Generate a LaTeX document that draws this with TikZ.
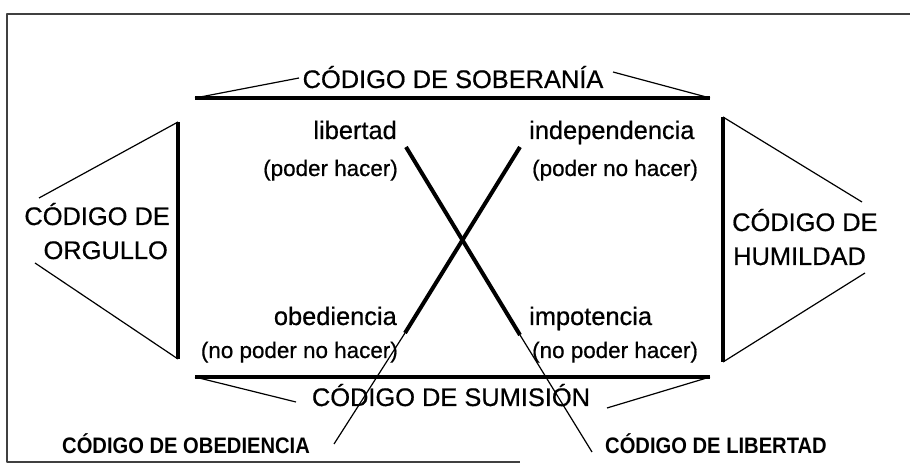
\documentclass[tikz,border=0pt]{standalone}
\usepackage{fontspec}
\setmainfont{Liberation Sans}
\newfontfamily\scanfont{Liberation Sans}[FakeBold=0.6]
\newfontfamily\tagfont{Liberation Sans Bold}[FakeStretch=0.9]
\usepackage{tikz}

\begin{document}
\begin{tikzpicture}[line join=bevel,line cap=butt,
  bar/.style={black,line width=4bp},
  slant/.style={black,line width=1.2bp},
  big/.style={inner sep=0pt,font=\scanfont\fontsize{25.5}{30}\selectfont},
  small/.style={inner sep=0pt,font=\scanfont\fontsize{22.5}{26}\selectfont},
  tag/.style={inner sep=0pt,font=\tagfont\fontsize{22.5}{26}\selectfont},
]
%%
\useasboundingbox (0bp,0bp) rectangle (910bp,470bp);
\draw [black!75,line width=1.2bp] (910bp,456bp) -- (7bp,456bp) -- (7bp,8bp) -- (520bp,8bp);
%
\coordinate (top_w) at (195bp,372bp);
\coordinate (top_e) at (710bp,372bp);
\coordinate (bot_w) at (195bp,93bp);
\coordinate (bot_e) at (710bp,93bp);
\coordinate (lft_n) at (178bp,348bp);
\coordinate (lft_s) at (178bp,111bp);
\coordinate (rgt_n) at (723bp,353bp);
\coordinate (rgt_s) at (723bp,108bp);
\coordinate (sob_w) at (299bp,392bp);
\coordinate (sob_e) at (613bp,398bp);
\coordinate (sum_w) at (296bp,68bp);
\coordinate (sum_e) at (607bp,62bp);
\coordinate (org_n) at (39bp,272bp);
\coordinate (org_s) at (35bp,207bp);
\coordinate (hum_n) at (862bp,268bp);
\coordinate (hum_s) at (865bp,197bp);
\coordinate (cross1_a) at (406bp,323bp);
\coordinate (cross1_b) at (520bp,135bp);
\coordinate (cross1_c) at (592bp,18bp);
\coordinate (cross2_a) at (520bp,323bp);
\coordinate (cross2_b) at (405bp,137bp);
\coordinate (cross2_c) at (334bp,26bp);
%
\node (node_sob) at (453bp,382bp) [big,anchor=base] {CÓDIGO DE SOBERANÍA};
\node (node_sum) at (451bp,64bp) [big,anchor=base] {CÓDIGO DE SUMISIÓN};
\node (node_org1) at (170bp,245bp) [big,anchor=base east] {CÓDIGO DE};
\node (node_org2) at (168bp,211bp) [big,anchor=base east] {ORGULLO};
\node (node_hum1) at (732bp,239bp) [big,anchor=base west] {CÓDIGO DE};
\node (node_hum2) at (733bp,205bp) [big,anchor=base west] {HUMILDAD};
\node (node_lib) at (397bp,331bp) [big,anchor=base east] {libertad};
\node (node_ind) at (529bp,331bp) [big,anchor=base west] {independencia};
\node (node_obe) at (397bp,145bp) [big,anchor=base east] {obediencia};
\node (node_imp) at (529bp,145bp) [big,anchor=base west] {impotencia};
\node (node_lib_p) at (398bp,294bp) [small,anchor=base east] {(poder hacer)};
\node (node_ind_p) at (532bp,294bp) [small,anchor=base west] {(poder no hacer)};
\node (node_obe_p) at (398bp,112bp) [small,anchor=base east] {(no poder no hacer)};
\node (node_imp_p) at (532bp,112bp) [small,anchor=base west] {(no poder hacer)};
\node (node_cobe) at (62bp,17bp) [tag,anchor=base west] {CÓDIGO DE OBEDIENCIA};
\node (node_clib) at (605bp,17bp) [tag,anchor=base west] {CÓDIGO DE LIBERTAD};
%
\draw [bar] (top_w) -- (top_e);
\draw [bar] (bot_w) -- (bot_e);
\draw [bar] (lft_n) -- (lft_s);
\draw [bar] (rgt_n) -- (rgt_s);
\draw [slant] (top_w) -- (sob_w);
\draw [slant] (sob_e) -- (top_e);
\draw [slant] (bot_w) -- (sum_w);
\draw [slant] (sum_e) -- (bot_e);
\draw [slant] (lft_n) -- (org_n);
\draw [slant] (org_s) -- (lft_s);
\draw [slant] (rgt_n) -- (hum_n);
\draw [slant] (hum_s) -- (rgt_s);
\draw [bar] (cross1_a) -- (cross1_b);
\draw [slant] (cross1_b) -- (cross1_c);
\draw [bar] (cross2_a) -- (cross2_b);
\draw [slant] (cross2_b) -- (cross2_c);
%
\end{tikzpicture}
\end{document}
